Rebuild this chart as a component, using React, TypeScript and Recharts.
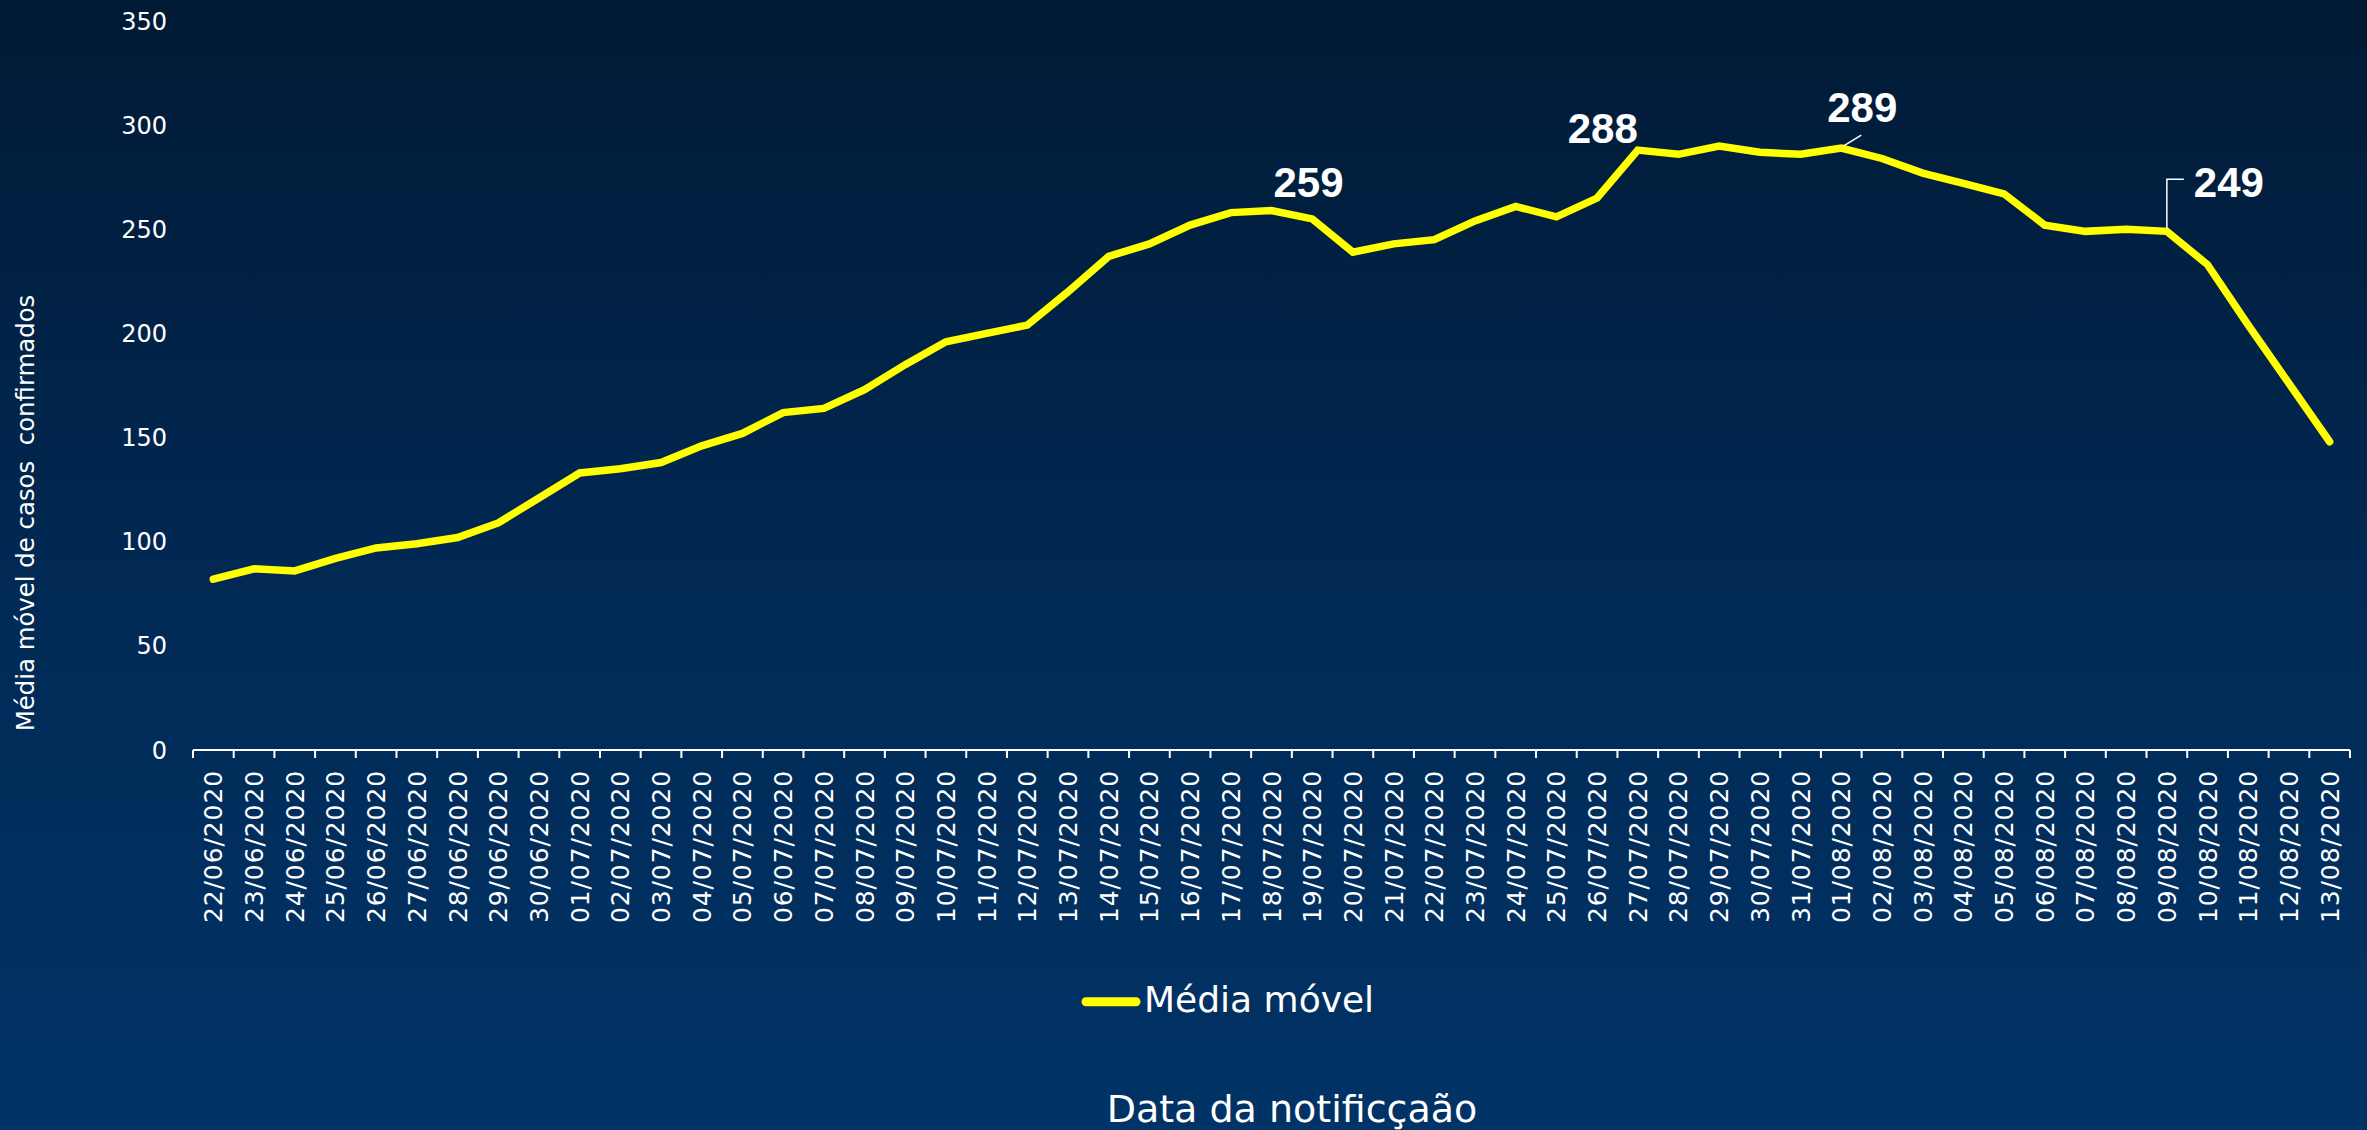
import React from 'react';
import { LineChart, Line, XAxis, YAxis, Legend, LabelList, Customized } from 'recharts';

const dates = [
  '22/06/2020', '23/06/2020', '24/06/2020', '25/06/2020', '26/06/2020', '27/06/2020', '28/06/2020',
  '29/06/2020', '30/06/2020', '01/07/2020', '02/07/2020', '03/07/2020', '04/07/2020', '05/07/2020',
  '06/07/2020', '07/07/2020', '08/07/2020', '09/07/2020', '10/07/2020', '11/07/2020', '12/07/2020',
  '13/07/2020', '14/07/2020', '15/07/2020', '16/07/2020', '17/07/2020', '18/07/2020', '19/07/2020',
  '20/07/2020', '21/07/2020', '22/07/2020', '23/07/2020', '24/07/2020', '25/07/2020', '26/07/2020',
  '27/07/2020', '28/07/2020', '29/07/2020', '30/07/2020', '31/07/2020', '01/08/2020', '02/08/2020',
  '03/08/2020', '04/08/2020', '05/08/2020', '06/08/2020', '07/08/2020', '08/08/2020', '09/08/2020',
  '10/08/2020', '11/08/2020', '12/08/2020', '13/08/2020',
];

const mediaMovel = [
  82, 87, 86, 92, 97, 99, 102,
  109, 121, 133, 135, 138, 146, 152,
  162, 164, 173, 185, 196, 200, 204,
  220, 237, 243, 252, 258, 259, 255,
  239, 243, 245, 254, 261, 256, 265,
  288, 286, 290, 287, 286, 289, 284,
  277, 272, 267, 252, 249, 250, 249,
  233, 204, 176, 148,
];

const yTicks = [0, 50, 100, 150, 200, 250, 300, 350];

const seriesName = 'Média móvel';
const yTitle = 'Média móvel de casos  confirmados';
const xTitle = 'Data da notificçaão';

// Label placement (styling only), keyed by the labelled date
const labelStyle: Record<string, { dx: number; dy: number; leader?: 'diag' | 'elbow' }> = {
  '18/07/2020': { dx: 37, dy: -14 },
  '27/07/2020': { dx: -35, dy: -7 },
  '01/08/2020': { dx: 21, dy: -26, leader: 'diag' },
  '09/08/2020': { dx: 62, dy: -34, leader: 'elbow' },
};

const W = 2367;
const H = 1130;
const MARGIN = { top: 21, right: 17, left: 0, bottom: 0 };
const Y_AXIS_W = 193;
const X_AXIS_H = 380;
const HALF_BAND = (W - MARGIN.right - Y_AXIS_W) / dates.length / 2;
const FONT = "'DejaVu Sans', sans-serif";

const data = dates.map((d, i) => ({ date: d, media: mediaMovel[i] }));

function XTick(props: any) {
  const { x, y, payload, index } = props;
  const isLast = index === dates.length - 1;
  const ty = y + 20;
  return (
    <g>
      <line x1={x - HALF_BAND} x2={x - HALF_BAND} y1={y} y2={y + 8} stroke="#ffffff" strokeWidth={2} />
      {isLast && (
        <line x1={x + HALF_BAND} x2={x + HALF_BAND} y1={y} y2={y + 8} stroke="#ffffff" strokeWidth={2} />
      )}
      <text
        x={x}
        y={ty}
        dy="0.36em"
        transform={`rotate(-90, ${x}, ${ty})`}
        textAnchor="end"
        fill="#ffffff"
        fontSize={25}
        letterSpacing={0.9}
        fontFamily={FONT}
      >
        {payload.value}
      </text>
    </g>
  );
}

function PeakLabel(props: any) {
  const { x, y, value, index } = props;
  const cfg = labelStyle[dates[index]];
  if (!cfg) return null;
  return (
    <g>
      {cfg.leader === 'diag' && (
        <line x1={x + 2} y1={y - 2} x2={x + 20} y2={y - 13} stroke="#ffffff" strokeWidth={1.5} />
      )}
      {cfg.leader === 'elbow' && (
        <polyline
          points={`${x},${y - 2} ${x},${y - 52} ${x + 17},${y - 52}`}
          fill="none"
          stroke="#ffffff"
          strokeWidth={1.5}
        />
      )}
      <text
        x={x + cfg.dx}
        y={y + cfg.dy}
        textAnchor="middle"
        fill="#ffffff"
        fontSize={42}
        fontWeight="bold"
        fontFamily="'Liberation Sans', Arial, sans-serif"
      >
        {value}
      </text>
    </g>
  );
}

function LegendContent(props: any) {
  const item = (props.payload && props.payload[0]) || { value: seriesName, color: '#FFFF00' };
  return (
    <svg width={320} height={50} style={{ display: 'block', overflow: 'visible' }}>
      <line x1={11} x2={61} y1={21.7} y2={21.7} stroke={item.color} strokeWidth={9} strokeLinecap="round" />
      <text x={69} y={32.3} fill="#ffffff" fontSize={36} fontFamily={FONT}>
        {item.value}
      </text>
    </svg>
  );
}

function Titles() {
  return (
    <g>
      <text
        x={33.5}
        y={513}
        transform="rotate(-90, 33.5, 513)"
        textAnchor="middle"
        fill="#ffffff"
        fontSize={24.4}
        fontFamily={FONT}
        style={{ whiteSpace: 'pre' }}
      >
        {yTitle}
      </text>
      <text x={1292} y={1122} textAnchor="middle" fill="#ffffff" fontSize={38} fontFamily={FONT}>
        {xTitle}
      </text>
    </g>
  );
}

export default function App() {
  return (
    <div
      style={{
        position: 'absolute',
        left: 0,
        top: 0,
        width: W,
        height: H,
        overflow: 'hidden',
        background: 'linear-gradient(to bottom, #011a35 0%, #012a56 55%, #013366 100%)',
      }}
    >
      <LineChart width={W} height={H} data={data} margin={MARGIN}>
        <XAxis
          dataKey="date"
          height={X_AXIS_H}
          interval={0}
          padding={{ left: HALF_BAND, right: HALF_BAND }}
          tickLine={false}
          tickSize={0}
          tickMargin={0}
          axisLine={{ stroke: '#ffffff', strokeWidth: 2 }}
          tick={<XTick />}
        />
        <YAxis
          type="number"
          width={Y_AXIS_W}
          domain={[0, 350]}
          ticks={yTicks}
          interval={0}
          axisLine={false}
          tickLine={false}
          tickSize={0}
          tickMargin={26}
          tick={{ fill: '#ffffff', fontSize: 24, fontFamily: FONT }}
        />
        <Legend
          layout="horizontal"
          verticalAlign="middle"
          align="center"
          content={<LegendContent />}
          wrapperStyle={{ left: 1075, top: 980, width: 320, height: 50 }}
        />
        <Line
          type="linear"
          dataKey="media"
          name={seriesName}
          stroke="#FFFF00"
          strokeWidth={7.5}
          strokeLinecap="round"
          dot={false}
          activeDot={false}
          isAnimationActive={false}
        >
          <LabelList dataKey="media" content={<PeakLabel />} />
        </Line>
        <Customized component={<Titles />} />
      </LineChart>
    </div>
  );
}
